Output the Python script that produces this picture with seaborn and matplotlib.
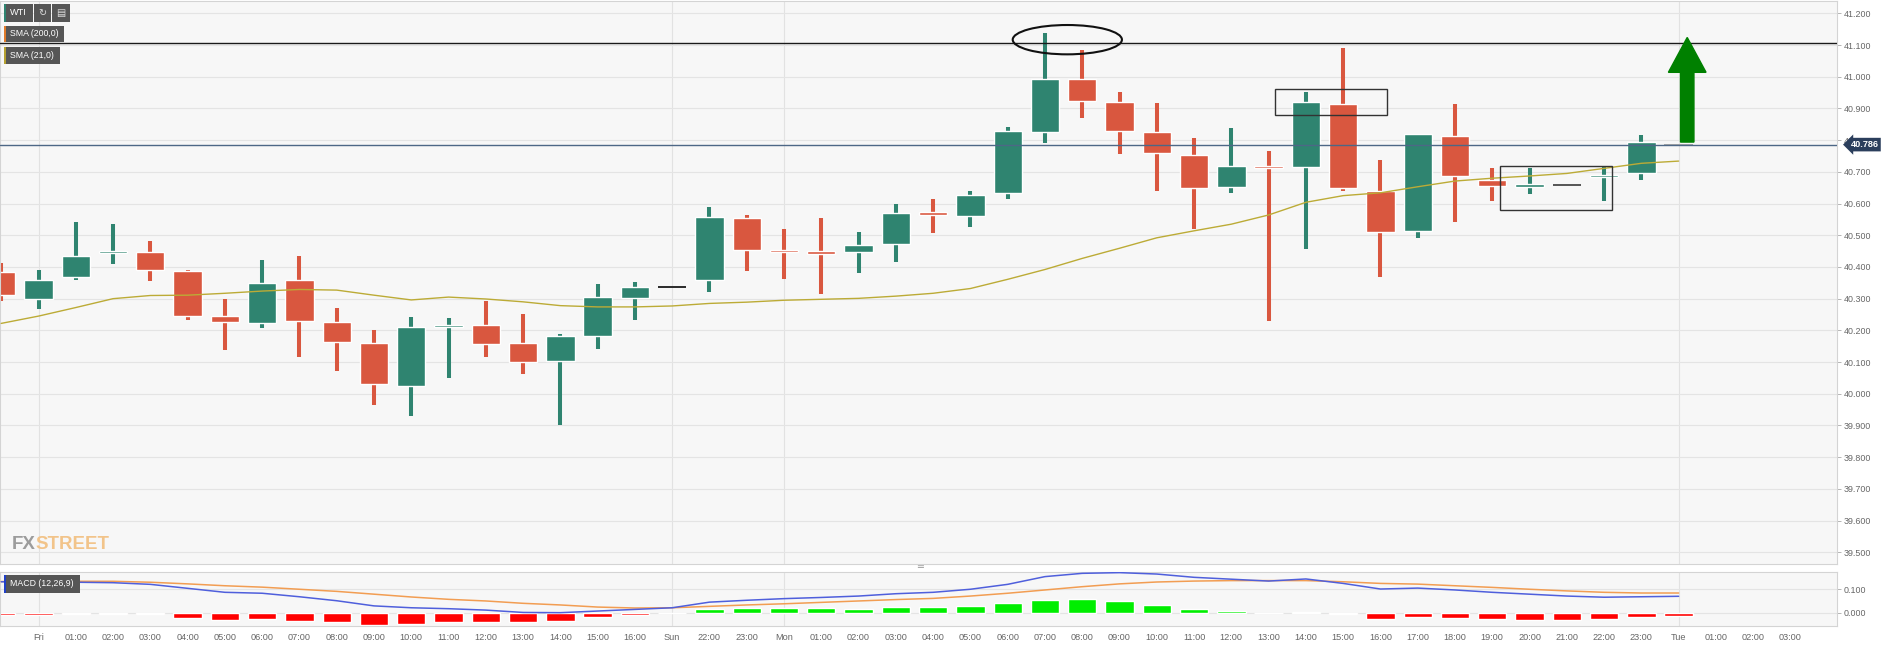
import numpy as np
import pandas as pd
import matplotlib.pyplot as plt
import seaborn as sns
from matplotlib.patches import Ellipse, Rectangle
from matplotlib.transforms import blended_transform_factory

# etiquetas horarias (indice 0 = jueves 23:00, fuera de pantalla)
horas = ['', 'Fri', '01:00', '02:00', '03:00', '04:00', '05:00', '06:00', '07:00',
         '08:00', '09:00', '10:00', '11:00', '12:00', '13:00', '14:00', '15:00',
         '16:00', 'Sun', '22:00', '23:00', 'Mon', '01:00', '02:00', '03:00',
         '04:00', '05:00', '06:00', '07:00', '08:00', '09:00', '10:00', '11:00',
         '12:00', '13:00', '14:00', '15:00', '16:00', '17:00', '18:00', '19:00',
         '20:00', '21:00', '22:00', '23:00', 'Tue', '01:00', '02:00', '03:00']

aperturas = [40.384, 40.299, 40.368, 40.445, 40.446, 40.386, 40.245, 40.224, 40.359, 40.226,
             40.161, 40.025, 40.213, 40.216, 40.161, 40.103, 40.182, 40.302, 40.336, 40.358,
             40.556, 40.455, 40.448, 40.448, 40.471, 40.572, 40.560, 40.632, 40.827, 40.994,
             40.921, 40.827, 40.752, 40.651, 40.719, 40.714, 40.914, 40.640, 40.515, 40.812,
             40.674, 40.655, 40.657, 40.686, 40.695, 40.786]
maximos = [40.413, 40.390, 40.542, 40.536, 40.482, 40.389, 40.298, 40.422, 40.435, 40.271,
           40.201, 40.242, 40.240, 40.292, 40.253, 40.188, 40.347, 40.352, 40.336, 40.588,
           40.565, 40.520, 40.554, 40.509, 40.598, 40.613, 40.640, 40.840, 41.137, 41.084,
           40.951, 40.918, 40.808, 40.837, 40.767, 40.951, 41.092, 40.737, 40.818, 40.913,
           40.713, 40.711, 40.657, 40.719, 40.817, 40.786]
minimos = [40.293, 40.268, 40.359, 40.409, 40.356, 40.232, 40.138, 40.209, 40.116, 40.073,
           39.963, 39.930, 40.050, 40.116, 40.061, 39.903, 40.141, 40.232, 40.336, 40.320,
           40.387, 40.363, 40.314, 40.380, 40.416, 40.506, 40.525, 40.613, 40.792, 40.869,
           40.756, 40.640, 40.519, 40.632, 40.229, 40.456, 40.640, 40.369, 40.490, 40.541,
           40.608, 40.629, 40.657, 40.607, 40.674, 40.786]
cierres = [40.313, 40.358, 40.435, 40.448, 40.389, 40.244, 40.227, 40.348, 40.228, 40.164,
           40.030, 40.211, 40.217, 40.158, 40.101, 40.181, 40.304, 40.337, 40.336, 40.558,
           40.452, 40.447, 40.443, 40.468, 40.570, 40.565, 40.627, 40.829, 40.994, 40.923,
           40.828, 40.758, 40.650, 40.717, 40.714, 40.921, 40.648, 40.509, 40.818, 40.687,
           40.655, 40.659, 40.657, 40.690, 40.793, 40.786]

sma21 = [40.222, 40.245, 40.272, 40.300, 40.310, 40.311, 40.317, 40.324, 40.329, 40.327,
         40.311, 40.296, 40.305, 40.299, 40.290, 40.278, 40.274, 40.274, 40.277, 40.285,
         40.289, 40.295, 40.298, 40.301, 40.308, 40.317, 40.332, 40.361, 40.392, 40.427,
         40.459, 40.492, 40.514, 40.535, 40.564, 40.604, 40.625, 40.634, 40.653, 40.671,
         40.680, 40.687, 40.695, 40.711, 40.727, 40.734]

macd = [0.132, 0.131, 0.130, 0.128, 0.121, 0.104, 0.087, 0.083, 0.068, 0.051,
        0.029, 0.021, 0.017, 0.011, 0.001, 0.000, 0.007, 0.014, 0.021, 0.045,
        0.053, 0.060, 0.065, 0.071, 0.081, 0.087, 0.100, 0.121, 0.154, 0.168,
        0.171, 0.165, 0.151, 0.143, 0.135, 0.144, 0.125, 0.101, 0.105, 0.097,
        0.087, 0.079, 0.071, 0.066, 0.068, 0.070]
senal = [0.133, 0.134, 0.134, 0.134, 0.130, 0.123, 0.115, 0.109, 0.100, 0.091,
         0.079, 0.067, 0.057, 0.050, 0.040, 0.033, 0.024, 0.020, 0.021, 0.027,
         0.033, 0.038, 0.044, 0.050, 0.056, 0.061, 0.071, 0.083, 0.097, 0.111,
         0.123, 0.131, 0.135, 0.137, 0.137, 0.137, 0.132, 0.125, 0.122, 0.115,
         0.108, 0.100, 0.093, 0.087, 0.084, 0.084]
histograma = [-0.009, -0.009, -0.007, -0.004, -0.007, -0.021, -0.033, -0.028, -0.036, -0.041,
              -0.054, -0.047, -0.040, -0.038, -0.040, -0.034, -0.020, -0.009, -0.002, 0.017,
              0.020, 0.020, 0.019, 0.017, 0.024, 0.025, 0.028, 0.040, 0.056, 0.058,
              0.048, 0.034, 0.016, 0.006, -0.002, 0.005, -0.007, -0.028, -0.019, -0.021,
              -0.027, -0.030, -0.031, -0.027, -0.019, -0.013]

resistencia = 41.107
ultimo = 40.786

VERDE, ROJO = '#2f8470', '#d9573f'
W, H = 1886, 649

sns.set_theme(style='white')
plt.rcParams['font.family'] = ['Liberation Sans', 'DejaVu Sans']

fig = plt.figure(figsize=(W / 100, H / 100), dpi=100)


def caja(x0, y0, x1, y1):
    return [x0 / W, 1 - y1 / H, (x1 - x0) / W, (y1 - y0) / H]


ax = fig.add_axes(caja(0, 1, 1836.7, 564))
axm = fig.add_axes(caja(0, 571.7, 1836.7, 625.7), sharex=ax)

df = pd.DataFrame({'o': aperturas, 'h': maximos, 'l': minimos, 'c': cierres})
df['x'] = np.arange(len(df))
plano = df.h == df.l
velas = df[~plano]
colores = np.where(velas.c >= velas.o, VERDE, ROJO)

# mechas y cuerpos
ax.vlines(velas.x, velas.l, velas.h, colors=colores, lw=2.9, zorder=2)
alto = np.maximum((velas.c - velas.o).abs(), 0.007)
base = (velas.c + velas.o) / 2 - alto / 2
ax.bar(velas.x, alto, bottom=base, width=0.76, color=colores, zorder=2)
# velas sin rango
ax.hlines(df.c[plano], df.x[plano] - 0.38, df.x[plano] + 0.38,
          colors=['#2a2a2a', '#555555', '#a8a8a8'], lw=1.4, zorder=2)

sns.lineplot(x=np.arange(len(sma21)), y=sma21, ax=ax, color='#bcab36', lw=1.0, zorder=3)

ax.axhline(resistencia, color='#1a1a1a', lw=1.0, zorder=3)
ax.axhline(ultimo, color='#4d6786', lw=1.0, zorder=3)

ax.add_patch(Ellipse((28.6, 41.117), 2.93, 0.0925, fill=False, ec='#111111', lw=1.5, zorder=4))
ax.add_patch(Rectangle((34.17, 40.879), 3.0, 0.081, fill=False, ec='#333333', lw=1.0, zorder=4))
ax.add_patch(Rectangle((40.2, 40.580), 3.02, 0.139, fill=False, ec='#333333', lw=1.0, zorder=4))
ax.arrow(45.23, 40.794, 0, 0.330, width=0.36, head_width=1.01, head_length=0.11,
         length_includes_head=True, fc='#008000', ec='#008000', zorder=5)

# rejilla y ejes
dias = [i for i, h in enumerate(horas) if h in ('Fri', 'Sun', 'Mon', 'Tue')]
for a in (ax, axm):
    a.set_facecolor('#f7f7f7')
    for d in dias:
        a.axvline(d, color='#e2e2e2', lw=0.8, zorder=0)
    for s in a.spines.values():
        s.set_color('#d4d4d4')
        s.set_linewidth(0.8)
    a.yaxis.tick_right()
    a.tick_params(axis='y', length=3, width=0.6, color='#aaaaaa', labelcolor='#666666',
                  labelsize=6.4, pad=2, left=False)
    a.set_xlabel('')
    a.set_ylabel('')

ax.set_yticks(np.round(np.arange(39.5, 41.21, 0.1), 1))
ax.set_yticklabels([f'{v:.3f}' for v in np.arange(39.5, 41.21, 0.1)])
ax.yaxis.grid(True, color='#e4e4e4', lw=0.8)
ax.set_axisbelow(True)
ax.set_ylim(39.463, 41.239)
ax.tick_params(axis='x', labelbottom=False, length=0)

# MACD
colh = ['#f5c8c8' if abs(v) < 0.003 else ('#00ee00' if v > 0 else '#ff0000') for v in histograma]
axm.bar(np.arange(len(histograma)), histograma, width=0.76, color=colh, zorder=2)
sns.lineplot(x=np.arange(len(senal)), y=senal, ax=axm, color='#f29d52', lw=1.1, zorder=3)
sns.lineplot(x=np.arange(len(macd)), y=macd, ax=axm, color='#4f5fdc', lw=1.1, zorder=3)
axm.set_yticks([0.0, 0.1])
axm.set_yticklabels(['0.000', '0.100'])
axm.yaxis.grid(True, color='#e4e4e4', lw=0.8)
axm.set_axisbelow(True)
axm.set_ylim(-0.0556, 0.175)
axm.set_xticks(range(1, len(horas)))
axm.set_xticklabels(horas[1:])
axm.tick_params(axis='x', length=2, width=0.6, color='#aaaaaa', labelcolor='#666666',
                labelsize=6.6, pad=3)
axm.set_xlim(-0.033, 49.24)
axm.set_xlabel('')
axm.set_ylabel('')

# etiqueta de precio actual
tr = blended_transform_factory(ax.transAxes, ax.transData)
ax.text(1.0075, ultimo, f'{ultimo:.3f}', transform=tr, color='white', fontsize=6.6,
        fontweight='bold', va='center', ha='left', zorder=10, clip_on=False,
        bbox=dict(boxstyle='larrow,pad=0.25', fc='#2b3e5c', ec='none'))


def etiqueta(x0, y0, x1, y1, texto, franja, fs=6.3):
    fig.patches.append(Rectangle((x0 / W, 1 - y1 / H), (x1 - x0) / W, (y1 - y0) / H,
                                 transform=fig.transFigure, fc='#565656', ec='none', zorder=10))
    fig.patches.append(Rectangle((x0 / W, 1 - y1 / H), 2 / W, (y1 - y0) / H,
                                 transform=fig.transFigure, fc=franja, ec='none', zorder=11))
    fig.text((x0 + 6) / W, 1 - (y0 + y1) / 2 / H, texto, color='white', fontsize=fs,
             va='center', ha='left', zorder=12)


etiqueta(4, 4, 33, 21.7, 'WTI', '#2f8470', fs=6.6)
etiqueta(34.3, 4, 50.7, 21.7, '', '#565656')
etiqueta(51.7, 4, 70, 21.7, '', '#565656')
fig.text(42.5 / W, 1 - 12.8 / H, '↻', color='#dddddd', fontsize=7, ha='center', va='center',
         zorder=12, family=['DejaVu Sans'])
fig.text(61 / W, 1 - 12.8 / H, '▤', color='#dddddd', fontsize=7, ha='center', va='center',
         zorder=12, family=['DejaVu Sans'])
etiqueta(4, 26, 64, 42, 'SMA (200,0)', '#e07b2a')
etiqueta(4, 46.7, 60, 64.3, 'SMA (21,0)', '#b5a030')
etiqueta(4, 575, 80, 592.7, 'MACD (12,26,9)', '#2140c8')

# marca de agua: STREET justo detras de FX
fx = fig.text(11.7 / W, 1 - 549 / H, 'FX', color='#9c9c9c', fontsize=13.5, fontweight='bold',
              ha='left', va='baseline')
fig.canvas.draw()
bb = fx.get_window_extent(fig.canvas.get_renderer())
fig.text(bb.x1 / W, 1 - 549 / H, 'STREET', color='#f2c48a', fontsize=13.5, fontweight='bold',
         ha='left', va='baseline')
fig.text(920 / W, 1 - 567.5 / H, '═', color='#9a9a9a', fontsize=7, ha='center', va='center',
         family=['DejaVu Sans'])

fig.savefig('out.png', dpi=100, facecolor='white')
